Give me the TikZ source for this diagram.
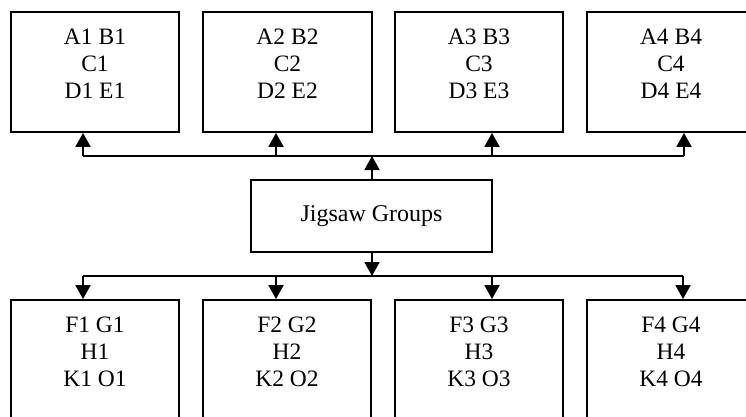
\documentclass[tikz,border=0pt]{standalone}
\usepackage{fontspec}
\setmainfont{Liberation Serif}
\usetikzlibrary{arrows.meta}
\begin{document}
\begin{tikzpicture}[x=1pt,y=-1pt,
  box/.style={draw=black,line width=1.9pt,rectangle,minimum width=168pt,minimum height=120pt,inner sep=0pt},
  lbl/.style={align=center,inner sep=0pt,font=\fontsize{23.5}{27}\selectfont},
  conn/.style={draw=black,line width=1.9pt},
  arr/.style={conn,-{Triangle[length=14pt,width=15pt]}}]
\path[use as bounding box,clip] (0,0) rectangle (746,417);
\fill[white] (0,0) rectangle (746,417);
% top boxes
\node[box] (t1) at (95,72) {};
\node[box,minimum width=169pt] (t2) at (287.5,72) {};
\node[box] (t3) at (479,72) {};
\node[box] (t4) at (671,72) {};
\node[lbl] (t1l) at (95,64) {A1 B1\\C1\\D1 E1};
\node[lbl] (t2l) at (287.5,64) {A2 B2\\C2\\D2 E2};
\node[lbl] (t3l) at (479,64) {A3 B3\\C3\\D3 E3};
\node[lbl] (t4l) at (671,64) {A4 B4\\C4\\D4 E4};
% bottom boxes
\node[box] (b1) at (95,360) {};
\node[box,minimum width=168pt] (b2) at (287,360) {};
\node[box] (b3) at (479,360) {};
\node[box] (b4) at (671,360) {};
\node[lbl] (b1l) at (95,352) {F1 G1\\H1\\K1 O1};
\node[lbl] (b2l) at (287,352) {F2 G2\\H2\\K2 O2};
\node[lbl] (b3l) at (479,352) {F3 G3\\H3\\K3 O3};
\node[lbl] (b4l) at (671,352) {F4 G4\\H4\\K4 O4};
% centre
\node[box,minimum width=241pt,minimum height=72pt,font=\fontsize{24}{28}\selectfont] (j) at (371.5,216) {Jigsaw Groups};
% junction coordinates
\coordinate (u1) at (83,156);
\coordinate (u2) at (276,156);
\coordinate (u3) at (492,156);
\coordinate (u4) at (684,156);
\coordinate (uj) at (372,156);
\coordinate (d1) at (83,276);
\coordinate (d2) at (276,276);
\coordinate (d3) at (492,276);
\coordinate (d4) at (683,276);
\coordinate (dj) at (372,276);
% connectors
\draw[arr] (uj |- j.north) -- (uj);
\draw[conn] (u1) -- (u4);
\draw[arr] (u1) -- (u1 |- t1.south);
\draw[arr] (u2) -- (u2 |- t2.south);
\draw[arr] (u3) -- (u3 |- t3.south);
\draw[arr] (u4) -- (u4 |- t4.south);
\draw[arr] (dj |- j.south) -- (dj);
\draw[conn] (d1) -- (d4);
\draw[arr] (d1) -- (d1 |- b1.north);
\draw[arr] (d2) -- (d2 |- b2.north);
\draw[arr] (d3) -- (d3 |- b3.north);
\draw[arr] (d4) -- (d4 |- b4.north);
\end{tikzpicture}
\end{document}
